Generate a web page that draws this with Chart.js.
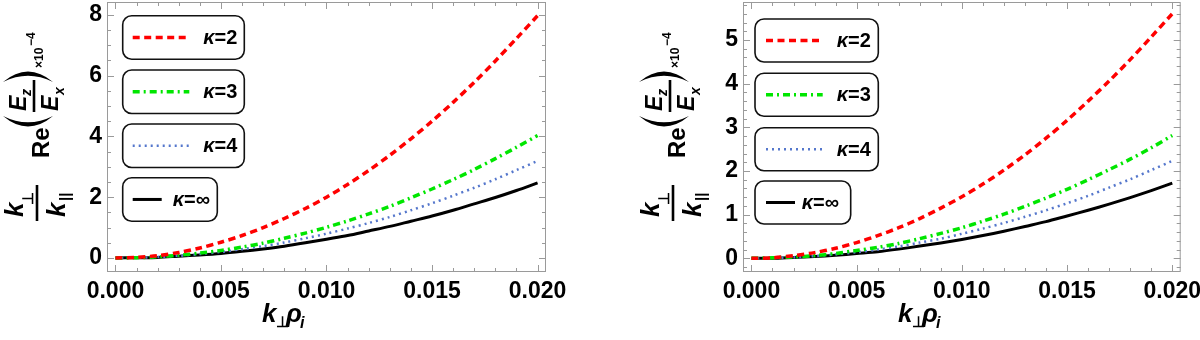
<!DOCTYPE html>
<html lang="en">
<head>
<meta charset="UTF-8">
<title>Re(Ez/Ex) vs k_perp rho_i</title>
<script src="https://cdn.jsdelivr.net/npm/chart.js"></script>
<style>
  body { margin: 0; background: #fff; }
  #wrap { position: relative; width: 1200px; height: 340px; overflow: hidden; }
  canvas { position: absolute; top: 0; }
</style>
</head>
<body>
<div id="wrap">
  <canvas id="leftChart" width="600" height="340" style="left:0"></canvas>
  <canvas id="rightChart" width="564" height="340" style="left:636px"></canvas>
</div>
<script>
// k_perp * rho_i
const kRho = [0, 0.001, 0.002, 0.003, 0.004, 0.005, 0.006, 0.007, 0.008, 0.009, 0.010,
              0.011, 0.012, 0.013, 0.014, 0.015, 0.016, 0.017, 0.018, 0.019, 0.020];
const xTicks = [0, 0.005, 0.010, 0.015, 0.020];
const seriesLabels = ['2', '3', '4', '∞'];

// left panel (x10^-4)
const leftKappa2   = [0, 0.02, 0.08, 0.18, 0.33, 0.52, 0.74, 1.00, 1.30, 1.63, 2.00, 2.42, 2.88, 3.38, 3.92, 4.50, 5.12, 5.78, 6.48, 7.22, 7.97];
const leftKappa3   = [0, 0.01, 0.04, 0.09, 0.16, 0.25, 0.36, 0.49, 0.65, 0.82, 1.01, 1.22, 1.45, 1.70, 1.98, 2.27, 2.58, 2.91, 3.27, 3.64, 4.03];
const leftKappa4   = [0, 0.01, 0.03, 0.07, 0.13, 0.20, 0.29, 0.39, 0.51, 0.65, 0.80, 0.97, 1.15, 1.35, 1.57, 1.80, 2.05, 2.31, 2.59, 2.89, 3.19];
const leftKappaInf = [0, 0.01, 0.02, 0.06, 0.10, 0.15, 0.22, 0.30, 0.39, 0.50, 0.62, 0.74, 0.89, 1.04, 1.21, 1.38, 1.57, 1.78, 1.99, 2.22, 2.47];
const leftYTicks = [0, 2, 4, 6, 8];

// right panel (x10^-4)
const rightKappa2   = [0, 0.01, 0.06, 0.13, 0.23, 0.36, 0.52, 0.70, 0.91, 1.15, 1.41, 1.70, 2.02, 2.37, 2.75, 3.16, 3.60, 4.06, 4.55, 5.07, 5.60];
const rightKappa3   = [0, 0.01, 0.03, 0.06, 0.11, 0.18, 0.25, 0.34, 0.45, 0.57, 0.70, 0.85, 1.01, 1.19, 1.38, 1.58, 1.80, 2.03, 2.27, 2.53, 2.81];
const rightKappa4   = [0, 0.01, 0.02, 0.05, 0.09, 0.14, 0.20, 0.27, 0.36, 0.45, 0.56, 0.68, 0.81, 0.95, 1.10, 1.26, 1.43, 1.62, 1.81, 2.02, 2.23];
const rightKappaInf = [0, 0.00, 0.02, 0.04, 0.07, 0.11, 0.15, 0.21, 0.28, 0.35, 0.43, 0.52, 0.62, 0.73, 0.84, 0.97, 1.10, 1.24, 1.39, 1.55, 1.72];
const rightYTicks = [0, 1, 2, 3, 4, 5];

const FONT = '"Liberation Sans", Arial, sans-serif';
const lineStyles = [
  { color: '#ff0000', dash: [7, 4.5], width: 3.5 },
  { color: '#00e600', dash: [7, 4, 2, 4], width: 3.5 },
  { color: '#5577cc', dash: [2, 4], width: 2.5 },
  { color: '#000000', dash: [], width: 3 }
];

// frame with inward ticks, like Mathematica
const framePlugin = {
  id: 'frame',
  afterDraw(chart, args, opts) {
    const { ctx, chartArea: a, scales: { x, y } } = chart;
    ctx.save();
    ctx.strokeStyle = '#9a9a9a';
    ctx.lineWidth = 1;
    ctx.strokeRect(a.left + 0.5, a.top + 0.5, a.right - a.left - 1, a.bottom - a.top - 1);
    ctx.beginPath();
    for (let i = 0; i <= 20; i++) {
      const px = Math.round(x.getPixelForValue(i * 0.001)) + 0.5;
      const len = i % 5 === 0 ? 7 : 4;
      ctx.moveTo(px, a.bottom); ctx.lineTo(px, a.bottom - len);
      ctx.moveTo(px, a.top); ctx.lineTo(px, a.top + len);
    }
    const n0 = Math.ceil(y.min / opts.minor), n1 = Math.floor(y.max / opts.minor);
    for (let i = n0; i <= n1; i++) {
      const v = i * opts.minor;
      const py = Math.round(y.getPixelForValue(v)) + 0.5;
      const major = Math.abs(v / opts.major - Math.round(v / opts.major)) < 1e-6;
      const len = major ? 7 : 4;
      ctx.moveTo(a.left, py); ctx.lineTo(a.left + len, py);
      ctx.moveTo(a.right, py); ctx.lineTo(a.right - len, py);
    }
    ctx.stroke();
    ctx.restore();
  }
};

// boxed legend entries
const boxLegendPlugin = {
  id: 'boxLegend',
  afterDatasetsDraw(chart, args, o) {
    const { ctx, chartArea: a } = chart;
    ctx.save();
    seriesLabels.forEach((lab, i) => {
      const st = lineStyles[i];
      const last = i === seriesLabels.length - 1;
      const bx = a.left + o.left, by = o.tops[i];
      const bw = last ? o.shortWidth : o.width;
      ctx.beginPath();
      ctx.roundRect(bx, by, bw, o.height, 9);
      ctx.fillStyle = '#fff';
      ctx.fill();
      ctx.lineWidth = 1.6;
      ctx.strokeStyle = '#111';
      ctx.stroke();
      const cy = by + o.height / 2;
      ctx.beginPath();
      ctx.setLineDash(st.dash);
      ctx.lineWidth = st.width;
      ctx.strokeStyle = st.color;
      ctx.moveTo(bx + o.lineStart, cy);
      ctx.lineTo(bx + (last ? o.shortLineEnd : o.lineEnd), cy);
      ctx.stroke();
      ctx.setLineDash([]);
      ctx.fillStyle = '#000';
      ctx.textBaseline = 'middle';
      let tx = bx + (last ? o.shortText : o.text);
      ctx.font = 'italic bold 20px ' + FONT;
      ctx.fillText('κ', tx, cy + 1);
      tx += ctx.measureText('κ').width;
      ctx.font = 'bold 20px ' + FONT;
      ctx.fillText('=' + lab, tx, cy + 1);
    });
    ctx.restore();
  }
};

// axis titles built from pieces
const axisTitlePlugin = {
  id: 'axisTitles',
  afterDraw(chart) {
    const { ctx, chartArea: a } = chart;
    ctx.save();
    ctx.fillStyle = '#000';
    ctx.textBaseline = 'alphabetic';
    ctx.textAlign = 'left';
    // x title: k_perp rho_i
    ctx.font = 'italic bold 26px ' + FONT;
    ctx.fillText('k', 262, 322);
    ctx.font = 'bold 15px ' + FONT;
    ctx.fillText('⊥', 276, 327);
    ctx.font = 'italic bold 26px ' + FONT;
    ctx.fillText('ρ', 286, 322);
    ctx.font = 'italic bold 16px ' + FONT;
    ctx.fillText('i', 300, 328);

    // y title, rotated: u runs up the page, v runs to the right
    ctx.translate(a.left - 70, 0);
    ctx.rotate(-Math.PI / 2);
    ctx.font = 'italic bold 26px ' + FONT;
    ctx.fillText('k', -217, -14);
    ctx.font = 'bold 15px ' + FONT;
    ctx.fillText('⊥', -205, -4);
    ctx.fillRect(-221, -1.3, 36, 2.6);
    ctx.font = 'italic bold 26px ' + FONT;
    ctx.fillText('k', -217, 28);
    ctx.font = 'bold 15px ' + FONT;
    ctx.fillText('||', -201, 33);

    ctx.font = 'bold 24px ' + FONT;
    ctx.fillText('Re', -158, 12);
    // parentheses
    const paren = (u0, bulge) => {
      ctx.beginPath();
      ctx.moveTo(u0, -34);
      ctx.quadraticCurveTo(u0 + bulge * 1.5, -9, u0, 16);
      ctx.quadraticCurveTo(u0 + bulge * 0.9, -9, u0, -34);
      ctx.fill();
    };
    paren(-116, -14);
    paren(-82, 14);

    ctx.font = 'italic bold 23px ' + FONT;
    ctx.fillText('E', -111, -11);
    ctx.font = 'italic bold 14px ' + FONT;
    ctx.fillText('z', -96, -6);
    ctx.fillRect(-112, -4.3, 32, 2.6);
    ctx.font = 'italic bold 23px ' + FONT;
    ctx.fillText('E', -111, 21);
    ctx.font = 'italic bold 14px ' + FONT;
    ctx.fillText('x', -95, 27);

    ctx.font = 'bold 12px ' + FONT;
    ctx.fillText('×10', -68, 6);
    ctx.font = 'bold 12px ' + FONT;
    ctx.fillText('−4', -46, -2);
    ctx.restore();
  }
};

function buildPanel(canvasId, series, yMin, yMax, yTicks, yMajor, yMinor, padRight, legend) {
  const datasets = series.map((vals, i) => ({
    label: 'κ=' + seriesLabels[i],
    data: kRho.map((k, j) => ({ x: k, y: vals[j] })),
    borderColor: lineStyles[i].color,
    borderDash: lineStyles[i].dash,
    borderWidth: lineStyles[i].width,
    pointRadius: 0,
    tension: 0.3,
    fill: false,
    order: i
  }));
  return new Chart(document.getElementById(canvasId), {
    type: 'line',
    data: { datasets },
    options: {
      responsive: false,
      animation: false,
      devicePixelRatio: 1,
      layout: { padding: { top: 2, right: padRight, left: 0, bottom: 0 } },
      plugins: {
        legend: { display: false },
        tooltip: { enabled: false },
        frame: { major: yMajor, minor: yMinor },
        boxLegend: legend
      },
      scales: {
        x: {
          type: 'linear',
          min: -0.0004,
          max: 0.0204,
          grid: { display: false, drawTicks: false },
          border: { display: false },
          afterBuildTicks: s => { s.ticks = xTicks.map(v => ({ value: v })); },
          afterFit: s => { s.height = 68; s.paddingLeft = 0; s.paddingRight = 0; },
          ticks: {
            autoSkip: false,
            maxRotation: 0,
            padding: 6,
            color: '#000',
            font: { family: FONT, weight: 'bold', size: 23 },
            callback: v => v.toFixed(3)
          }
        },
        y: {
          type: 'linear',
          min: yMin,
          max: yMax,
          grid: { display: false, drawTicks: false },
          border: { display: false },
          afterBuildTicks: s => { s.ticks = yTicks.map(v => ({ value: v })); },
          afterFit: s => { s.width = 107; s.paddingTop = 0; s.paddingBottom = 0; },
          ticks: {
            padding: 5,
            color: '#000',
            font: { family: FONT, weight: 'bold', size: 23 },
            callback: v => String(v)
          }
        }
      }
    },
    plugins: [framePlugin, boxLegendPlugin, axisTitlePlugin]
  });
}

buildPanel('leftChart', [leftKappa2, leftKappa3, leftKappa4, leftKappaInf],
  -0.46, 8.42, leftYTicks, 2, 0.5, 54,
  { left: 15.7, tops: [15.7, 70, 124, 177.7], height: 43.5, width: 121.6, shortWidth: 94.6,
    lineStart: 10, lineEnd: 66.6, shortLineEnd: 39, text: 80.6, shortText: 50 });

buildPanel('rightChart', [rightKappa2, rightKappa3, rightKappa4, rightKappaInf],
  -0.314, 5.87, rightYTicks, 1, 0.2, 19.3,
  { left: 12, tops: [19, 73.3, 127.7, 181], height: 43, width: 123.3, shortWidth: 95.7,
    lineStart: 11, lineEnd: 67.7, shortLineEnd: 40, text: 81.7, shortText: 46.7 });
</script>
</body>
</html>
